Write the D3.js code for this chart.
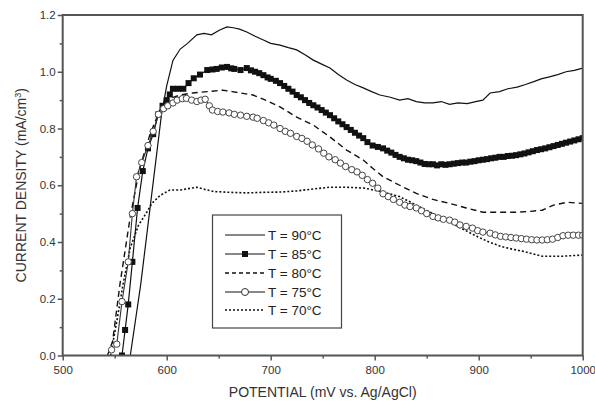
<!DOCTYPE html>
<html><head><meta charset="utf-8">
<script src="https://cdn.jsdelivr.net/npm/d3@7"></script>
<style>body{margin:0;background:#fff}svg{display:block}text{font-family:"Liberation Sans",Arial,sans-serif}</style>
</head><body><svg id="c" width="595" height="405"></svg>
<script>
const xTicks=[500,600,700,800,900,1000];
const yTicks=[0.0,0.2,0.4,0.6,0.8,1.0,1.2];
const seriesNames=["T = 90°C","T = 85°C","T = 80°C","T = 75°C","T = 70°C"];
const t90=[[565,0],[575,0.25],[585,0.55],[595,0.85],[600,0.95],[606,1.04],[613,1.08],[620,1.1],[629,1.13],[636,1.135],[643,1.13],[651,1.147],[658,1.158],[664,1.155],[670,1.15],[677,1.14],[685,1.125],[693,1.112],[700,1.1],[709,1.094],[717,1.085],[725,1.077],[733,1.06],[741,1.041],[749,1.027],[757,1.013],[765,0.99],[773,0.971],[781,0.955],[789,0.943],[797,0.93],[805,0.918],[815,0.91],[824,0.9],[832,0.905],[840,0.895],[848,0.89],[856,0.89],[864,0.895],[872,0.885],[880,0.89],[889,0.888],[897,0.895],[904,0.9],[911,0.925],[920,0.93],[928,0.94],[937,0.946],[945,0.955],[953,0.965],[960,0.975],[968,0.982],[976,0.99],[984,1.0],[992,1.005],[1000,1.013]];
const t85=[[557,0],[560,0.09],[563,0.18],[567,0.33],[572,0.52],[577,0.65],[582,0.73],[587,0.78],[592,0.85],[596,0.88],[600,0.9],[603,0.92],[606,0.94],[611,0.94],[616,0.94],[621,0.96],[626,0.977],[632,0.99],[639,1.006],[644,1.008],[648,1.01],[653,1.015],[658,1.017],[662,1.012],[665,1.01],[671,1.006],[677,1.013],[681,1.005],[685,1.0],[689,0.995],[693,0.988],[697,0.98],[700,0.975],[705,0.968],[709,0.96],[713,0.95],[717,0.94],[721,0.93],[725,0.918],[729,0.91],[733,0.9],[737,0.89],[741,0.882],[745,0.874],[749,0.865],[753,0.856],[757,0.847],[761,0.836],[765,0.825],[769,0.815],[773,0.805],[777,0.795],[781,0.785],[785,0.775],[789,0.766],[793,0.752],[798,0.74],[803,0.735],[808,0.73],[812,0.722],[816,0.715],[820,0.707],[824,0.7],[828,0.695],[832,0.69],[836,0.688],[840,0.685],[844,0.68],[848,0.675],[852,0.674],[856,0.674],[860,0.67],[864,0.674],[868,0.672],[872,0.674],[876,0.676],[880,0.678],[884,0.68],[888,0.68],[892,0.683],[896,0.685],[900,0.688],[904,0.69],[908,0.692],[912,0.695],[916,0.697],[920,0.7],[924,0.7],[928,0.703],[932,0.704],[936,0.706],[940,0.709],[944,0.712],[948,0.716],[952,0.72],[956,0.724],[960,0.727],[964,0.73],[968,0.734],[972,0.738],[976,0.742],[980,0.746],[984,0.75],[988,0.754],[992,0.758],[996,0.762],[1000,0.766]];
const t80=[[543,0],[548,0.05],[555,0.25],[565,0.49],[574,0.66],[584,0.78],[594,0.87],[603,0.906],[613,0.918],[625,0.925],[639,0.93],[654,0.935],[663,0.93],[671,0.925],[683,0.918],[695,0.9],[709,0.876],[725,0.84],[741,0.812],[757,0.77],[773,0.724],[789,0.689],[798,0.66],[808,0.63],[824,0.6],[840,0.571],[856,0.55],[872,0.536],[888,0.52],[904,0.505],[920,0.505],[936,0.505],[950,0.508],[961,0.512],[972,0.53],[985,0.54],[1000,0.536]];
const t75=[[547,0.02],[552,0.04],[557,0.19],[563,0.33],[567,0.5],[571,0.63],[576,0.68],[582,0.74],[587,0.79],[592,0.85],[597,0.87],[601,0.88],[606,0.89],[610,0.9],[615,0.905],[619,0.906],[624,0.9],[629,0.895],[633,0.9],[637,0.903],[641,0.88],[644,0.865],[649,0.86],[654,0.858],[660,0.855],[665,0.85],[671,0.847],[677,0.843],[683,0.84],[687,0.836],[693,0.828],[698,0.82],[703,0.812],[709,0.8],[714,0.79],[719,0.783],[725,0.772],[730,0.765],[735,0.755],[740,0.742],[746,0.728],[751,0.713],[756,0.7],[762,0.69],[767,0.678],[772,0.666],[778,0.655],[783,0.647],[788,0.635],[793,0.62],[798,0.607],[803,0.59],[808,0.57],[813,0.56],[818,0.55],[824,0.54],[829,0.53],[834,0.525],[840,0.52],[845,0.51],[850,0.5],[856,0.49],[861,0.485],[866,0.48],[872,0.477],[877,0.47],[882,0.46],[888,0.455],[894,0.449],[899,0.44],[904,0.435],[911,0.431],[916,0.425],[921,0.42],[926,0.418],[931,0.416],[936,0.414],[941,0.412],[946,0.41],[951,0.408],[956,0.407],[961,0.407],[966,0.408],[971,0.41],[976,0.416],[981,0.422],[986,0.424],[991,0.424],[996,0.424],[1000,0.424]];
const t70=[[546,0],[552,0.12],[558,0.25],[565,0.38],[573,0.46],[580,0.5],[586,0.537],[594,0.565],[603,0.583],[613,0.583],[621,0.588],[629,0.593],[637,0.585],[645,0.578],[661,0.575],[677,0.573],[693,0.575],[709,0.576],[725,0.58],[741,0.587],[757,0.593],[773,0.593],[790,0.59],[808,0.576],[824,0.56],[840,0.53],[856,0.5],[872,0.47],[885,0.445],[898,0.42],[910,0.4],[921,0.385],[932,0.375],[943,0.367],[952,0.358],[961,0.35],[971,0.35],[981,0.35],[990,0.352],[1000,0.354]];

const svg=d3.select("#c");
const L=62.7,R=582.7,T=15,B=355.5;
const x=d3.scaleLinear().domain([500,1000]).range([L,R]);
const y=d3.scaleLinear().domain([0,1.2]).range([B,T]);
const axisCol="#555", txtCol="#333";

const clip=svg.append("clipPath").attr("id","pc").append("rect").attr("x",L).attr("y",T-5).attr("width",R-L).attr("height",B-T+5);
const g=svg.append("g").attr("clip-path","url(#pc)");
const line=d3.line().x(d=>x(d[0])).y(d=>y(d[1]));
const ink="#111";
g.append("path").datum(t70).attr("d",line).attr("fill","none").attr("stroke",ink).attr("stroke-width",1.6).attr("stroke-dasharray","2,2");
g.append("path").datum(t80).attr("d",line).attr("fill","none").attr("stroke",ink).attr("stroke-width",1.4).attr("stroke-dasharray","6,4");
g.append("path").datum(t90).attr("d",line).attr("fill","none").attr("stroke",ink).attr("stroke-width",1.2);
g.append("path").datum(t85).attr("d",line).attr("fill","none").attr("stroke",ink).attr("stroke-width",1.2);
g.selectAll(".sq").data(t85).enter().append("rect").attr("x",d=>x(d[0])-3).attr("y",d=>y(d[1])-3).attr("width",6).attr("height",6).attr("fill",ink);
g.append("path").datum(t75).attr("d",line).attr("fill","none").attr("stroke","#333").attr("stroke-width",1.1);
g.selectAll(".ci").data(t75).enter().append("circle").attr("cx",d=>x(d[0])).attr("cy",d=>y(d[1])).attr("r",3.2).attr("fill","#fff").attr("stroke","#444").attr("stroke-width",1);

// axes
const xa=svg.append("g").attr("transform",`translate(0,${B})`).call(d3.axisBottom(x).tickValues(xTicks).tickFormat(d3.format("d")).tickSize(5).tickSizeOuter(0));
const ya=svg.append("g").attr("transform",`translate(${L},0)`).call(d3.axisLeft(y).tickValues(yTicks).tickFormat(d3.format(".1f")).tickSize(5).tickSizeOuter(0));
const xm=svg.append("g").attr("transform",`translate(0,${B})`).call(d3.axisBottom(x).tickValues([550,650,750,850,950]).tickFormat("").tickSize(3).tickSizeOuter(0));
const ym=svg.append("g").attr("transform",`translate(${L},0)`).call(d3.axisLeft(y).tickValues([0.1,0.3,0.5,0.7,0.9,1.1]).tickFormat("").tickSize(3).tickSizeOuter(0));
[xa,ya,xm,ym].forEach(a=>{a.select(".domain").remove();a.selectAll("line").attr("stroke",axisCol).attr("stroke-width",1.5);});
[xa,ya].forEach(a=>a.selectAll("text").attr("fill",txtCol).style("font-size","11.5px"));
xa.selectAll("text").attr("dy","0.95em");
ya.selectAll("text").attr("x",-7);
svg.append("rect").attr("x",L).attr("y",T).attr("width",R-L).attr("height",B-T).attr("fill","none").attr("stroke",axisCol).attr("stroke-width",2);

svg.append("text").attr("x",(L+R)/2).attr("y",397).attr("text-anchor","middle").attr("fill",txtCol).style("font-size","14px").text("POTENTIAL (mV vs. Ag/AgCl)");
const yl=svg.append("text").attr("transform",`translate(26,${(T+B)/2}) rotate(-90)`).attr("text-anchor","middle").attr("fill",txtCol).style("font-size","14px");
yl.append("tspan").text("CURRENT DENSITY (mA/cm");
yl.append("tspan").attr("dy","-5").style("font-size","9px").text("3");
yl.append("tspan").attr("dy","5").text(")");

// legend
const lg=svg.append("g");
lg.append("rect").attr("x",212.5).attr("y",215).attr("width",129).attr("height",113).attr("fill","#fff").attr("stroke","#444").attr("stroke-width",1.2);
const rows=[235,254,273,292,310];
const styles=[{dash:null,m:null,w:1.2},{dash:null,m:"sq",w:1.2},{dash:"4,3",m:null,w:1.4},{dash:null,m:"ci",w:1.2},{dash:"2,2",m:null,w:1.6}];
seriesNames.forEach((n,i)=>{
  const yy=rows[i];
  const s=styles[i];
  const ln=lg.append("line").attr("x1",225).attr("x2",265).attr("y1",yy).attr("y2",yy).attr("stroke",ink).attr("stroke-width",s.w);
  if(s.dash) ln.attr("stroke-dasharray",s.dash);
  if(s.m==="sq") lg.append("rect").attr("x",242).attr("y",yy-3).attr("width",6).attr("height",6).attr("fill",ink);
  if(s.m==="ci") lg.append("circle").attr("cx",245).attr("cy",yy).attr("r",3.5).attr("fill","#fff").attr("stroke","#333");
  lg.append("text").attr("x",268).attr("y",yy+4.5).attr("fill","#222").style("font-size","13.5px").text(n);
});
</script></body></html>
